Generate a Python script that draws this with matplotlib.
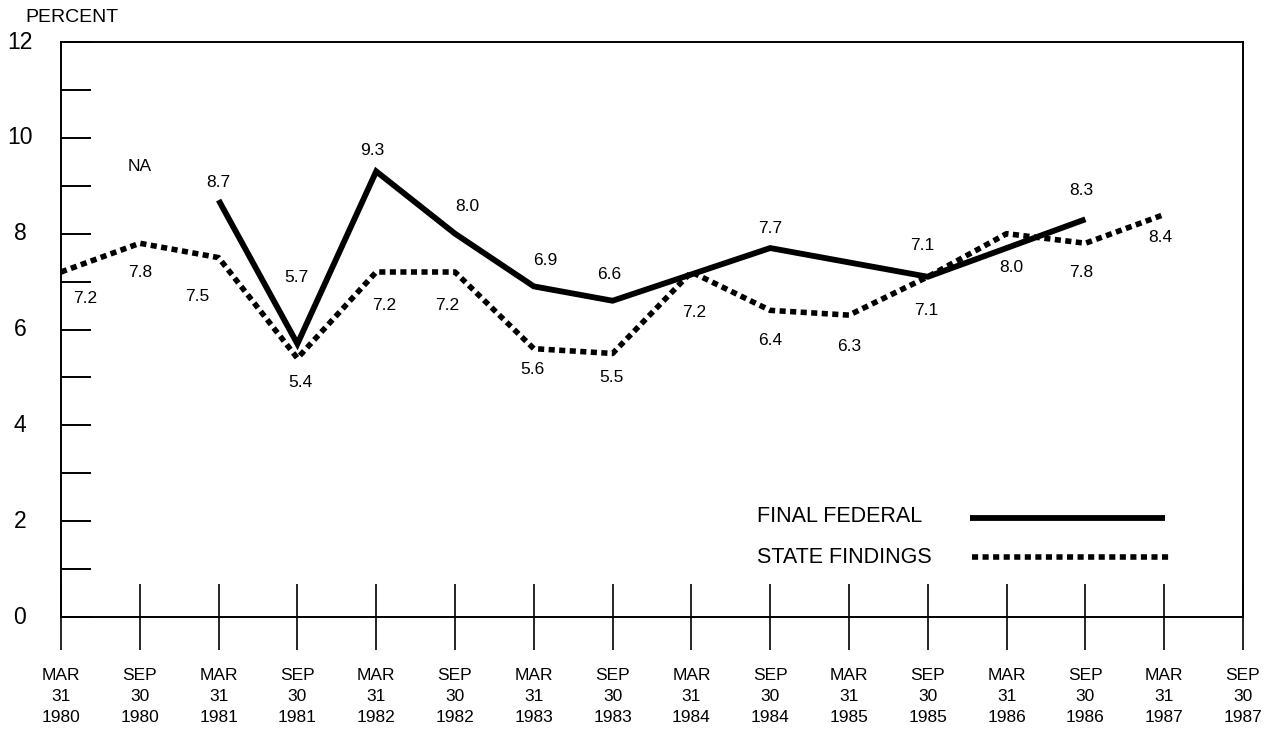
import numpy as np
import matplotlib
matplotlib.use("Agg")
import matplotlib.pyplot as plt

# --- data ---
periods = ["MAR\n31\n1980", "SEP\n30\n1980", "MAR\n31\n1981", "SEP\n30\n1981",
           "MAR\n31\n1982", "SEP\n30\n1982", "MAR\n31\n1983", "SEP\n30\n1983",
           "MAR\n31\n1984", "SEP\n30\n1984", "MAR\n31\n1985", "SEP\n30\n1985",
           "MAR\n31\n1986", "SEP\n30\n1986", "MAR\n31\n1987", "SEP\n30\n1987"]

# final federal (no values for MAR 1984, MAR 1985, MAR 1986)
federal_idx = [2, 3, 4, 5, 6, 7, 9, 11, 13]
federal_vals = [8.7, 5.7, 9.3, 8.0, 6.9, 6.6, 7.7, 7.1, 8.3]

# state findings, MAR 1980 .. MAR 1987
state_idx = list(range(15))
state_vals = [7.2, 7.8, 7.5, 5.4, 7.2, 7.2, 5.6, 5.5, 7.2, 6.4, 6.3, 7.1, 8.0, 7.8, 8.4]

# label offsets in pixels (dx, dy) relative to each point
federal_offsets = [(0, 18), (-1, 66), (-4, 21), (12, 27), (11, 26), (-3, 26),
                   (0, 20), (-6, 31), (-4, 29)]
state_offsets = [(24, -26), (0, -29), (-21, -39), (3, -24), (8, -33), (-8, -33),
                 (-1, -21), (-1, -24), (3, -40), (0, -30), (0, -31), (-2, -34),
                 (5, -34), (-4, -29), (-4, -23)]

plt.rcParams['font.family'] = ['Liberation Sans', 'DejaVu Sans']

W, H = 1277, 731
fig = plt.figure(figsize=(W / 100, H / 100), dpi=100)
x0, x1, ytop, ybot = 61, 1243, 42, 617
ax = fig.add_axes([x0 / W, 1 - ybot / H, (x1 - x0) / W, (ybot - ytop) / H])

ax.set_xlim(0, 15)
ax.set_ylim(0, 12)

for s in ax.spines.values():
    s.set_linewidth(1.4)

# lines
ax.plot(federal_idx, federal_vals, color='black', lw=4.2, solid_capstyle='butt',
        solid_joinstyle='miter', clip_on=False)
ax.plot(state_idx, state_vals, color='black', lw=4.0, linestyle=(0, (1.1, 0.8)),
        dash_capstyle='butt', clip_on=False)

# data labels
for i, v, (dx, dy) in zip(federal_idx, federal_vals, federal_offsets):
    ax.annotate(f"{v:.1f}", (i, v), xytext=(dx, dy), textcoords='offset pixels',
                ha='center', va='center', fontsize=12.5)
for i, v, (dx, dy) in zip(state_idx, state_vals, state_offsets):
    ax.annotate(f"{v:.1f}", (i, v), xytext=(dx, dy), textcoords='offset pixels',
                ha='center', va='center', fontsize=12.5)
ax.text(1, 9.4, "NA", ha='center', va='center', fontsize=12.5)

# x axis ticks and labels
ax.set_xticks(range(16))
ax.set_xticklabels(periods, fontsize=12.5, linespacing=1.5)
ax.tick_params(axis='x', direction='inout', length=47, width=1.2, pad=13)

# y axis: inward ticks, labels drawn as text
ax.set_yticks(range(0, 13))
ax.set_yticklabels([])
ax.tick_params(axis='y', direction='in', length=21.5, width=1.4)
ytrans = ax.get_yaxis_transform()
for v in range(0, 13, 2):
    ax.text(-0.0347, v, str(v), transform=ytrans, ha='center', va='center', fontsize=16.5)

fig.text(25 / W, 1 - 17 / H, "PERCENT", ha='left', va='center', fontsize=14)

# legend drawn by hand
ax.text(0.589, 0.174, "FINAL FEDERAL", transform=ax.transAxes, ha='left', va='center',
        fontsize=15.5)
ax.text(0.589, 0.104, "STATE FINDINGS", transform=ax.transAxes, ha='left', va='center',
        fontsize=15.5)
ax.plot([0.769, 0.934], [0.172, 0.172], transform=ax.transAxes, color='black', lw=4.2,
        solid_capstyle='butt')
ax.plot([0.771, 0.938], [0.104, 0.104], transform=ax.transAxes, color='black', lw=4.0,
        linestyle=(0, (1.1, 0.8)), dash_capstyle='butt')

fig.savefig("out.png", dpi=100)
